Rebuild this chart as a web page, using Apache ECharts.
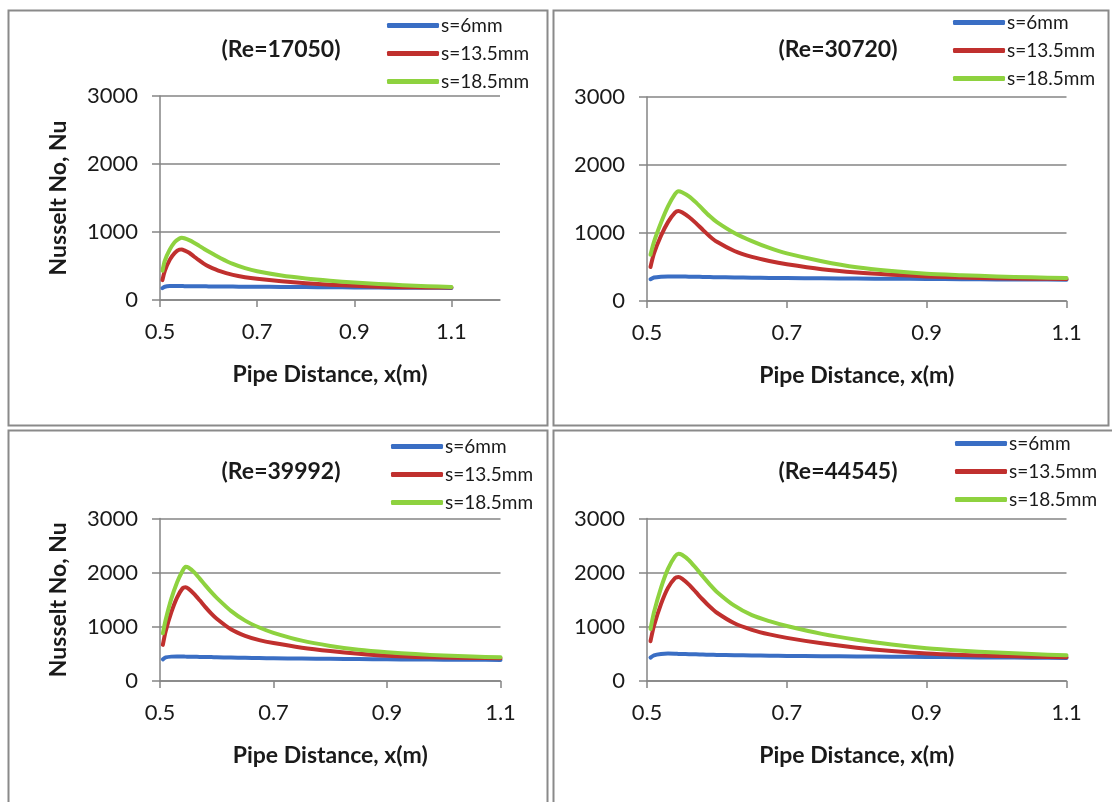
<!DOCTYPE html>
<html>
<head>
<meta charset="utf-8">
<title>Nusselt number along the pipe</title>
<script src="https://cdn.jsdelivr.net/npm/echarts@6/dist/echarts.min.js"></script>
<style>
  html, body { margin: 0; padding: 0; background: #ffffff; }
  #chart { width: 1112px; height: 802px; }
</style>
</head>
<body>
<div id="chart"></div>
<script>
// Axial positions along the pipe, x (m)
const pipeX = [0.505, 0.51, 0.52, 0.53, 0.54, 0.545, 0.55, 0.56, 0.57, 0.58, 0.59, 0.60,
               0.625, 0.65, 0.675, 0.70, 0.75, 0.80, 0.85, 0.90, 0.95, 1.00, 1.05, 1.10];

const seriesNames = ['s=6mm', 's=13.5mm', 's=18.5mm'];
const panelTitles = ['(Re=17050)', '(Re=30720)', '(Re=39992)', '(Re=44545)'];
const xTickValues = [0.5, 0.7, 0.9, 1.1];

// Re = 17050
const nuRe17050_s6   = [175, 195, 205, 206, 205, 205, 204, 204, 203, 202, 201, 200, 198, 197, 196, 195, 192, 190, 187, 185, 183, 181, 180, 178];
const nuRe17050_s135 = [292, 430, 590, 690, 740, 742, 730, 695, 640, 585, 535, 495, 420, 370, 336, 312, 276, 248, 226, 208, 196, 188, 185, 183];
const nuRe17050_s185 = [430, 580, 740, 850, 905, 916, 908, 880, 843, 800, 755, 712, 615, 530, 468, 422, 360, 317, 284, 257, 236, 218, 204, 193];

// Re = 30720
const nuRe30720_s6   = [320, 345, 358, 362, 362, 361, 360, 358, 356, 354, 352, 350, 346, 343, 340, 338, 334, 330, 327, 324, 321, 318, 316, 314];
const nuRe30720_s135 = [500, 700, 960, 1160, 1300, 1325, 1305, 1235, 1145, 1045, 950, 870, 735, 648, 588, 541, 468, 420, 387, 362, 345, 333, 328, 324];
const nuRe30720_s185 = [680, 870, 1150, 1390, 1570, 1615, 1600, 1540, 1450, 1345, 1245, 1160, 1000, 880, 780, 700, 585, 495, 440, 401, 380, 362, 348, 338];

// Re = 39992
const nuRe39992_s6   = [400, 435, 450, 452, 451, 450, 449, 447, 445, 443, 441, 438, 433, 429, 424, 420, 415, 410, 405, 401, 397, 394, 391, 389];
const nuRe39992_s135 = [667, 920, 1270, 1540, 1715, 1730, 1705, 1610, 1490, 1365, 1250, 1150, 955, 835, 755, 700, 615, 552, 502, 465, 445, 432, 425, 420];
const nuRe39992_s185 = [880, 1130, 1520, 1820, 2040, 2110, 2095, 2010, 1890, 1765, 1645, 1535, 1295, 1115, 988, 890, 745, 648, 578, 531, 497, 469, 451, 438];

// Re = 44545
const nuRe44545_s6   = [432, 475, 500, 506, 504, 500, 498, 495, 492, 488, 485, 482, 476, 472, 467, 463, 458, 453, 448, 444, 438, 434, 430, 426];
const nuRe44545_s135 = [735, 1020, 1420, 1720, 1900, 1920, 1890, 1780, 1640, 1500, 1370, 1260, 1065, 945, 860, 796, 695, 615, 553, 506, 480, 463, 448, 438];
const nuRe44545_s185 = [960, 1270, 1720, 2070, 2300, 2350, 2330, 2230, 2085, 1930, 1780, 1645, 1390, 1215, 1105, 1015, 870, 760, 672, 605, 560, 525, 497, 475];

const panelData = [
  [nuRe17050_s6, nuRe17050_s135, nuRe17050_s185],
  [nuRe30720_s6, nuRe30720_s135, nuRe30720_s185],
  [nuRe39992_s6, nuRe39992_s135, nuRe39992_s185],
  [nuRe44545_s6, nuRe44545_s135, nuRe44545_s185]
];

const lineColors = ['#3a6ec4', '#c0302e', '#8ed23f'];
const gridGray = '#858585';
const textColor = '#1a1a1a';
const fontFamily = 'Lato, "Open Sans", sans-serif';

// Frame and plot geometry of each panel
const frames = [
  { x: 8.5, y: 10.5, w: 539, h: 415 },
  { x: 553.5, y: 10.5, w: 555, h: 415 },
  { x: 8.5, y: 430.5, w: 539, h: 380 },
  { x: 553.5, y: 430.5, w: 570, h: 380 }
];
const plots = [
  { left: 160, top: 96, width: 340, height: 204, xMax: 1.2, yName: true },
  { left: 647, top: 97, width: 419.5, height: 204, xMax: 1.1, yName: false },
  { left: 160, top: 518.5, width: 340.5, height: 162.5, xMax: 1.1, yName: true },
  { left: 647, top: 518.5, width: 419.5, height: 162.5, xMax: 1.1, yName: false }
];
const titlePos = [
  { x: 276, y: 33 }, { x: 833, y: 33 }, { x: 276, y: 455 }, { x: 833, y: 455 }
];
const legendPos = [
  { x: 387, y: 16 }, { x: 953, y: 13 }, { x: 391, y: 437 }, { x: 955, y: 434 }
];

const grid = [], xAxis = [], yAxis = [], series = [], title = [], legend = [];

plots.forEach(function (p, i) {
  grid.push({ left: p.left, top: p.top, width: p.width, height: p.height, containLabel: false });

  xAxis.push({
    type: 'value', gridIndex: i, min: 0.5, max: p.xMax, interval: 0.1,
    name: 'Pipe Distance, x(m)', nameLocation: 'middle', nameGap: 63,
    nameTextStyle: { fontFamily: fontFamily, fontWeight: 'bold', fontSize: 23, color: textColor },
    axisLine: { show: true, lineStyle: { color: gridGray, width: 1.5 } },
    axisTick: { show: true, length: 7, customValues: xTickValues, lineStyle: { color: gridGray, width: 1.5 } },
    axisLabel: { customValues: xTickValues, margin: 21, fontFamily: fontFamily, fontSize: 22, color: textColor,
      formatter: function (v) { return v.toFixed(1); } },
    splitLine: { show: false }
  });

  yAxis.push({
    type: 'value', gridIndex: i, min: 0, max: 3000, interval: 1000,
    name: p.yName ? 'Nusselt No, Nu' : '', nameLocation: 'middle', nameGap: 90, nameRotate: 90,
    nameTextStyle: { fontFamily: fontFamily, fontWeight: 'bold', fontSize: 23, color: textColor },
    axisLine: { show: true, lineStyle: { color: gridGray, width: 1.5 } },
    axisTick: { show: true, length: 8, lineStyle: { color: gridGray, width: 1.5 } },
    axisLabel: { margin: 22, fontFamily: fontFamily, fontSize: 22, color: textColor,
      formatter: function (v) { return String(v); } },
    splitLine: { show: true, lineStyle: { color: gridGray, width: 1.5 } }
  });

  panelData[i].forEach(function (vals, k) {
    series.push({
      type: 'line', name: seriesNames[k], xAxisIndex: i, yAxisIndex: i,
      data: pipeX.map(function (x, j) { return [x, vals[j]]; }),
      showSymbol: false, smooth: 0.25, silent: true,
      lineStyle: { color: lineColors[k], width: 4, cap: 'round', join: 'round' },
      itemStyle: { color: lineColors[k] },
      z: 3 + k
    });
  });

  title.push({
    text: panelTitles[i], left: titlePos[i].x, top: titlePos[i].y, textAlign: 'center',
    textStyle: { fontFamily: fontFamily, fontWeight: 'bold', fontSize: 23, color: textColor }
  });

  legend.push({
    orient: 'vertical', left: legendPos[i].x, top: legendPos[i].y,
    data: seriesNames, icon: 'roundRect', itemWidth: 52, itemHeight: 5, itemGap: 9,
    selectedMode: false, padding: 0,
    textStyle: { fontFamily: fontFamily, fontSize: 19, color: textColor, padding: [0, 0, 0, -3] }
  });
});

const chart = echarts.init(document.getElementById('chart'), null, { renderer: 'canvas' });
chart.setOption({
  backgroundColor: '#ffffff',
  animation: false,
  grid: grid, xAxis: xAxis, yAxis: yAxis, series: series, title: title, legend: legend,
  graphic: frames.map(function (f) {
    return { type: 'rect', shape: { x: f.x, y: f.y, width: f.w, height: f.h }, silent: true,
      style: { fill: 'none', stroke: '#8a8a8a', lineWidth: 2 }, z: -1 };
  })
});
</script>
</body>
</html>
